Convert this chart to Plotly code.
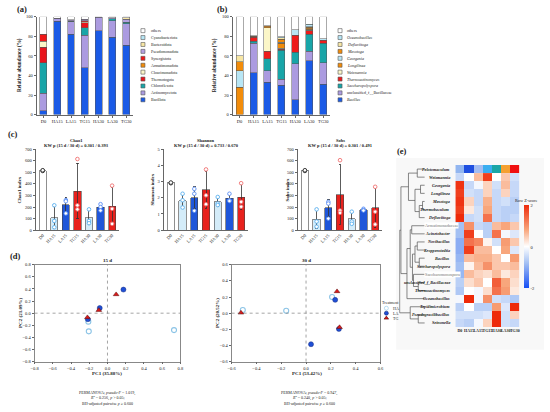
import plotly.graph_objects as go

W, H = 550, 412
SERIF = "Liberation Serif"
INK = "#222"

samples = ["D0", "HA15", "LA15", "TG15", "HA30", "LA30", "TG30"]

# (a) phylum level relative abundance (%), stacked bottom -> top
phyla = ["Bacillota", "Actinomycetota", "Chloroflexota", "Thermotogota", "Cloacimonadota",
         "Armatimonadota", "Synergistota", "Pseudomonadota", "Bacteroidota", "Cyanobacteriota", "others"]
bacillota = [4, 95.5, 82, 48, 86, 79, 71]
actinomycetota = [18, 2.5, 13, 33, 13.5, 17, 22]
chloroflexota = [31, 0, 0.5, 8, 0, 2, 1.5]
thermotogota = [16, 0, 0.5, 5, 0, 0, 0]
cloacimonadota = [6, 0, 0, 1, 0, 0, 0]
armatimonadota = [0, 0, 0, 0, 0, 0, 0]
synergistota = [7, 0, 0, 1, 0, 0, 0]
pseudomonadota = [0, 0.5, 1, 1.5, 0, 1, 3]
bacteroidota = [0, 0, 0, 0, 0, 0, 1.5]
cyanobacteriota = [0, 0, 0, 0, 0, 0, 0]
others_a = [18, 1.5, 3, 2.5, 0.5, 1, 1]
phyla_vals = [bacillota, actinomycetota, chloroflexota, thermotogota, cloacimonadota,
              armatimonadota, synergistota, pseudomonadota, bacteroidota, cyanobacteriota, others_a]
phyla_colors = ["#1a5ae6", "#ab9be0", "#18a5a8", "#e8141c", "#fbf6c8", "#f28c0a",
                "#f01818", "#b3a0e0", "#f7e6a4", "#b8e6f5", "#ffffff"]

# (b) genus level relative abundance (%), stacked bottom -> top
genera = ["<i>Bacillus</i>", "unclassified_f__Bacillaceae", "<i>Saccharopolyspora</i>",
          "<i>Thermoactinomyces</i>", "<i>Weizmannia</i>", "<i>Longilinea</i>", "<i>Georgenia</i>",
          "<i>Mesotoga</i>", "<i>Defluviitoga</i>", "<i>Oceanobacillus</i>", "others"]
bacillus = [0, 43, 33, 30, 15, 55, 31]
uncl_bacillaceae = [0, 30, 12, 6, 37, 10, 22]
saccharopolyspora = [0, 2, 12, 30, 12, 17, 20]
thermoactinomyces = [0, 4, 8, 1, 17, 4, 3]
weizmannia = [0, 0.5, 24, 1, 0, 0.5, 0]
longilinea = [28, 0.5, 1, 5, 0, 1, 0]
georgenia = [17, 0, 0, 1, 0, 0.5, 0]
mesotoga = [9, 0, 1, 3, 0, 1.5, 0]
defluviitoga = [6, 0, 0, 1.5, 0, 0.5, 0]
oceanobacillus = [0, 0.5, 0, 1, 6, 2.5, 1.5]
others_b = [40, 19.5, 9, 20.5, 13, 7.5, 22.5]
genera_vals = [bacillus, uncl_bacillaceae, saccharopolyspora, thermoactinomyces, weizmannia,
               longilinea, georgenia, mesotoga, defluviitoga, oceanobacillus, others_b]
genera_colors = ["#1a5ae6", "#ab9be0", "#18a5a8", "#ee1c1c", "#fbf6c8", "#f28c0a",
                 "#b8e6f5", "#f28c0a", "#f7e6a4", "#b8e6f5", "#ffffff"]

# (c) alpha diversity
chao1_mean = [515, 107, 218, 337, 107, 198, 208]
chao1_sd = [8, 95, 65, 240, 62, 28, 165]
chao1_pts = [[515, 512, 518], [215, 80, 25], [260, 250, 145], [615, 215, 180],
             [180, 80, 60], [225, 200, 170], [385, 185, 55]]
shannon_mean = [2.92, 1.83, 2.0, 2.5, 1.75, 1.97, 2.03]
shannon_sd = [0.04, 0.42, 0.68, 1.15, 0.27, 0.24, 0.78]
shannon_pts = [[2.92, 2.9, 2.94], [2.25, 1.85, 1.4], [2.55, 2.25, 1.2], [3.75, 2.15, 1.6],
               [2.05, 1.65, 1.55], [2.25, 1.85, 1.8], [2.9, 1.75, 1.45]]
sobs_mean = [515, 95, 192, 308, 97, 177, 195]
sobs_sd = [8, 80, 75, 258, 52, 12, 175]
sobs_pts = [[515, 512, 518], [180, 75, 30], [245, 230, 100], [605, 170, 150],
            [160, 75, 55], [185, 175, 170], [375, 160, 50]]
bar_colors = ["#ffffff", "#d4ecf9", "#1f56d9", "#e8211d", "#d4ecf9", "#1f56d9", "#e8211d"]
pt_colors = ["#333333", "#5ab0ee", "#5a8ef5", "#f07070", "#5ab0ee", "#5a8ef5", "#f07070"]

# (d) PCoA scores
ha15_pc1 = [-0.21, -0.205, 0.73]
ha15_pc2 = [-0.14, -0.30, -0.28]
la15_pc1 = [-0.215, -0.085, 0.175]
la15_pc2 = [-0.10, 0.085, 0.39]
tg15_pc1 = [-0.22, -0.095, 0.095]
tg15_pc2 = [-0.07, 0.05, 0.31]
ha30_pc1 = [-0.51, -0.16, 0.21]
ha30_pc2 = [0.04, 0.03, 0.20]
la30_pc1 = [0.235, 0.04, 0.265]
la30_pc2 = [0.165, -0.385, -0.195]
tg30_pc1 = [-0.525, 0.25, 0.27]
tg30_pc2 = [0.005, 0.27, -0.175]

# (e) heatmap of row z-scores
hm_genera = ["Pelotomaculum", "Weizmannia", "Georgenia", "Longilinea", "Mesotoga", "Thermobaculum",
             "Defluviitoga", "Armatimonadaceae", "Acinetobacter", "Novibacillus", "Kroppenstedtia",
             "Bacillus", "Saccharopolyspora", "Saccharomonospora", "unclassified_f_Bacillaceae",
             "Thermoactinomyces", "Oceanobacillus", "Tepidimicrobium", "Pseudogracilibacillus",
             "Seinonella"]
plain_labels = ["Armatimonadaceae", "Saccharomonospora"]
top_row_colors = ["#92b6f0", "#1f4fe0", "#a3bdf2", "#3aaef0", "#1aa6a6", "#f5a030", "#f01010"]
zscore = [
    [-0.5, 0.0, 0.6, 1.8, 0.0, 0.5, -0.4],
    [1.9, -0.5, -0.1, 0.4, -0.4, 0.6, -0.5],
    [1.8, -0.4, -0.5, 0.4, -0.5, 0.4, -0.5],
    [1.9, 0.4, -0.5, 0.7, -0.5, -0.4, -0.6],
    [1.8, 0.2, -0.4, 0.8, -0.5, -0.6, -0.6],
    [2.0, -0.5, -0.4, 1.3, -0.5, -0.6, -0.5],
    [-0.8, 1.0, -0.5, -0.6, 0.6, 0.8, 0.5],
    [-0.8, 1.8, 0.0, -0.6, 1.3, -0.1, -0.3],
    [-1.0, 1.3, 1.1, 0.1, -0.4, 0.9, 0.5],
    [-1.0, 1.8, 0.6, 0.6, 0.0, 0.8, -0.3],
    [-0.9, 0.6, 0.7, 0.7, 0.5, 0.0, 0.9],
    [-0.8, 0.1, 0.6, 1.0, 0.5, 0.5, 0.6],
    [-0.9, 0.6, 0.4, 0.3, 0.6, 0.2, 0.4],
    [-0.6, 0.3, 0.5, 0.0, 1.5, 0.8, 0.3],
    [-0.7, 0.0, -0.1, 0.3, 1.3, 0.9, 0.2],
    [-0.1, 2.0, -0.1, 1.0, -0.4, -0.5, -0.7],
    [-0.6, 0.0, -0.6, -0.6, 0.9, -0.3, 2.0],
    [-0.4, -0.4, -0.4, -0.3, 2.0, -0.4, 0.4],
    [-0.5, -0.6, -0.1, 0.4, 2.0, -0.4, -0.5],
]
# hierarchical clustering of rows: (left, right, height); ids >= 20 are earlier merges
merges = [(0, 1, 3.0), (2, 3, 1.7), (4, 5, 0.9), (22, 6, 2.2), (21, 23, 3.9), (20, 24, 6.5),
          (7, 8, 5.2), (9, 10, 3.0), (11, 12, 2.2), (27, 28, 3.9), (14, 15, 2.6), (13, 30, 4.5),
          (29, 31, 4.9), (26, 32, 5.8), (33, 16, 7.1), (25, 34, 9.5), (18, 19, 2.6),
          (17, 36, 5.8), (35, 37, 10.0)]

permanova_15 = ["PERMANOVA; <i>pseudo-F</i> = 1.019,", "<i>R</i><sup>2</sup> = 0.256, <i>p</i> &gt; 0.05;",
                "BH-adjusted pairwise <i>p</i> ≥ 0.600"]
permanova_30 = ["PERMANOVA; <i>pseudo-F</i> = 0.947,", "<i>R</i><sup>2</sup> = 0.240, <i>p</i> &gt; 0.05;",
                "BH-adjusted pairwise <i>p</i> ≥ 0.600"]


def xd(a, b):
    return [a / W, b / W]


def yd(top, bottom):
    return [1 - bottom / H, 1 - top / H]


def px(x):
    return x / W


def py(y):
    return 1 - y / H


tick_font = dict(family=SERIF, size=4.5, color=INK)
frame = dict(showline=True, linecolor="#666", linewidth=0.8, ticks="outside", ticklen=2,
             tickwidth=0.6, tickcolor="#666", showgrid=False, zeroline=False, tickfont=tick_font)

fig = go.Figure()

# (a) and (b) stacked bars
for names, vals, cols, ax in [(phyla, phyla_vals, phyla_colors, ""), (genera, genera_vals, genera_colors, "2")]:
    for name, v, c in zip(names, vals, cols):
        fig.add_bar(x=samples, y=[a if a else None for a in v], name=name, width=0.5,
                    marker=dict(color=c, line=dict(color="#555", width=0.5)),
                    xaxis="x" + ax, yaxis="y" + ax, showlegend=False)

# (c) alpha diversity bars + replicates
for ax, mean, sd, pts in [("3", chao1_mean, chao1_sd, chao1_pts), ("4", shannon_mean, shannon_sd, shannon_pts),
                          ("5", sobs_mean, sobs_sd, sobs_pts)]:
    fig.add_bar(x=samples, y=mean, width=0.62, xaxis="x" + ax, yaxis="y" + ax, showlegend=False,
                marker=dict(color=bar_colors, line=dict(color="#444", width=0.6)),
                error_y=dict(type="data", array=sd, color="#333", thickness=0.8, width=1.2))
    xs, ys, cs = [], [], []
    for s, p, c in zip(samples, pts, pt_colors):
        xs += [s] * len(p)
        ys += p
        cs += [c] * len(p)
    fig.add_scatter(x=xs, y=ys, mode="markers", xaxis="x" + ax, yaxis="y" + ax, showlegend=False,
                    marker=dict(symbol="circle", size=3.6, color="white", line=dict(color=cs, width=0.9)))

# (d) PCoA
groups = [("HA", "circle", "white", "#8cc4e6", 1.1), ("LA", "circle", "#1f4fd6", "#1a2f80", 0.5),
          ("TG", "triangle-up", "#d91a1a", "#5a0a0a", 0.5)]
for ax, sets in [("6", [(ha15_pc1, ha15_pc2), (la15_pc1, la15_pc2), (tg15_pc1, tg15_pc2)]),
                 ("7", [(ha30_pc1, ha30_pc2), (la30_pc1, la30_pc2), (tg30_pc1, tg30_pc2)])]:
    for (gx, gy), (g, sym, fc, lc, lw) in zip(sets, groups):
        fig.add_scatter(x=gx, y=gy, mode="markers", xaxis="x" + ax, yaxis="y" + ax, showlegend=False,
                        marker=dict(symbol=sym, size=5, color=fc, line=dict(color=lc, width=lw)))

# (e) heatmap
hm_scale = [[0, "#1750f5"], [0.3, "#a3c0f3"], [0.5, "#ffffff"], [0.7, "#f8a67c"], [1, "#ee2a0a"]]
fig.add_heatmap(z=zscore, x=samples, y=list(range(1, len(hm_genera))), zmin=-2, zmax=2,
                colorscale=hm_scale, xaxis="x8", yaxis="y8",
                colorbar=dict(x=px(528), xanchor="left", xpad=0, ypad=0, y=py(248), yanchor="middle",
                              len=84 / H, thickness=5, outlinewidth=0, tickvals=[-2, 0, 2],
                              ticktext=["-2", "0", "2"], ticks="",
                              tickfont=dict(family=SERIF, size=4.5, color=INK)))
n = len(top_row_colors)
fig.add_heatmap(z=[list(range(n))], x=samples, y=[0], zmin=0, zmax=n - 1, showscale=False,
                colorscale=[[i / (n - 1), c] for i, c in enumerate(top_row_colors)], xaxis="x8", yaxis="y8")

# dendrogram from the merge list
pos = {i: float(i) for i in range(len(hm_genera))}
hgt = {i: 0.0 for i in range(len(hm_genera))}
dx, dy = [], []
for k, (a, b, h) in enumerate(merges):
    node = len(hm_genera) + k
    dx += [hgt[a], h, h, hgt[b], None]
    dy += [pos[a], pos[a], pos[b], pos[b], None]
    pos[node] = (pos[a] + pos[b]) / 2
    hgt[node] = h
fig.add_scatter(x=dx, y=dy, mode="lines", line=dict(color="#555", width=0.7),
                xaxis="x9", yaxis="y9", showlegend=False)

# legend swatches (pixel overlay axis)
leg_x, leg_y, leg_c, leg_sym, leg_lc = [], [], [], [], []
for x0, cols in [(141, phyla_colors), (341, genera_colors)]:
    for i, c in enumerate(reversed(cols)):
        leg_x.append(x0)
        leg_y.append(29 + i * 7)
        leg_c.append(c)
        leg_sym.append("square")
        leg_lc.append("#555")
for i, (g, sym, fc, lc, lw) in enumerate(groups):
    leg_x.append(388)
    leg_y.append(310 + i * 5)
    leg_c.append(fc)
    leg_sym.append(sym)
    leg_lc.append(lc if g != "HA" else "#8cc4e6")
fig.add_scatter(x=leg_x, y=leg_y, mode="markers", xaxis="x10", yaxis="y10", showlegend=False,
                marker=dict(symbol=leg_sym, size=4, color=leg_c, line=dict(color=leg_lc, width=0.6)))

ann = []


def text(x, y, s, size=4.5, xanchor="center", angle=0, color=INK, **kw):
    ann.append(dict(x=px(x), y=py(y), xref="paper", yref="paper", text=s, showarrow=False,
                    xanchor=xanchor, yanchor="middle", textangle=angle,
                    font=dict(family=SERIF, size=size, color=color), **kw))


for x0, names in [(147, phyla), (346, genera)]:
    for i, name in enumerate(reversed(names)):
        text(x0, 29 + i * 7, name, size=4, xanchor="left")

for lab, x, y in [("(a)", 18, 7), ("(b)", 222, 7), ("(c)", 9, 134), ("(d)", 12, 257), ("(e)", 404, 151)]:
    text(x, y, "<b>%s</b>" % lab, size=8.5)

text(15, 64, "<b>Relative abundance (%)</b>", size=5.2, angle=-90)
text(213, 64, "<b>Relative abundance (%)</b>", size=5.2, angle=-90)

for cx, name, kw in [(74, "Chao1", "0.301 / 0.393"), (205, "Shannon", "0.733 / 0.670"), (341, "Sobs", "0.301 / 0.491")]:
    text(cx, 140, "<b>%s</b>" % name, size=4.5)
    text(cx, 145.5, "<b>KW p (15 d / 30 d) = %s</b>" % kw, size=4.5)
text(16, 190, "<b>Chao1 index</b>", size=5, angle=-90)
text(151, 190, "<b>Shannon index</b>", size=5, angle=-90)
text(288, 190, "<b>Sobs index</b>", size=5, angle=-90)

text(105, 262, "<b>15 d</b>", size=5)
text(307, 262, "<b>30 d</b>", size=5)
text(105, 376, "<b>PC1 (35.88%)</b>", size=5)
text(307, 376, "<b>PC1 (53.42%)</b>", size=5)
text(16, 315, "<b>PC2 (21.09%)</b>", size=5, angle=-90)
text(216, 315, "<b>PC2 (20.52%)</b>", size=5, angle=-90)
for cx, lines in [(105, permanova_15), (310, permanova_30)]:
    for i, line in enumerate(lines):
        text(cx, 396 + i * 5, line, size=4)
text(382, 304, "Treatment", size=4, xanchor="left")
for i, (g, *_rest) in enumerate(groups):
    text(393, 310 + i * 5, g, size=4, xanchor="left")
text(530, 201, "Row Z-score", size=4.3)

for i, g in enumerate(hm_genera):
    if g in plain_labels:
        ann.append(dict(x=px(426), y=i, xref="paper", yref="y8", text=g, showarrow=False, xanchor="left",
                        yanchor="middle", bgcolor="white", borderpad=0,
                        font=dict(family=SERIF, size=4.3, color="#777")))
    else:
        ann.append(dict(x=px(455), y=i, xref="paper", yref="y8", text="<b><i>%s</i></b>" % g, showarrow=False,
                        xanchor="right", yanchor="middle", font=dict(family=SERIF, size=4.2, color=INK)))

shapes = [dict(type="rect", xref="paper", yref="paper", x0=px(398), x1=px(548), y0=py(352), y1=py(158),
               fillcolor="#f8f8f8", line=dict(width=0), layer="below")]
for ax in ["6", "7"]:
    shapes.append(dict(type="line", xref="x" + ax, yref="y%s domain" % ax, x0=0, x1=0, y0=0, y1=1,
                       line=dict(color="#666", width=0.6, dash="dot")))
    shapes.append(dict(type="line", xref="x%s domain" % ax, yref="y" + ax, x0=0, x1=1, y0=0, y1=0,
                       line=dict(color="#666", width=0.6, dash="dot")))

box = dict(frame, mirror=True, linecolor="#888")
cat_c = dict(frame, tickangle=-45, ticks="")
cat_ab = dict(frame, tickangle=0)

fig.update_layout(
    width=W, height=H, autosize=False, margin=dict(l=0, r=0, t=0, b=0),
    paper_bgcolor="white", plot_bgcolor="rgba(0,0,0,0)", barmode="stack",
    font=dict(family=SERIF, color=INK),
    xaxis=dict(cat_ab, domain=xd(33, 131), anchor="y"),
    yaxis=dict(frame, domain=yd(15, 114), anchor="x", range=[0, 100], dtick=20),
    xaxis2=dict(cat_ab, domain=xd(232, 331), anchor="y2"),
    yaxis2=dict(frame, domain=yd(15, 114), anchor="x2", range=[0, 100], dtick=20),
    xaxis3=dict(cat_c, domain=xd(32, 117), anchor="y3"),
    yaxis3=dict(frame, domain=yd(149, 231), anchor="x3", range=[0, 700], dtick=100),
    xaxis4=dict(cat_c, domain=xd(162, 248), anchor="y4"),
    yaxis4=dict(frame, domain=yd(149, 231), anchor="x4", range=[0, 5], dtick=1),
    xaxis5=dict(cat_c, domain=xd(298, 384), anchor="y5"),
    yaxis5=dict(frame, domain=yd(149, 231), anchor="x5", range=[0, 700], dtick=100),
    xaxis6=dict(box, domain=xd(31, 179), anchor="y6", range=[-0.8, 0.8], dtick=0.2, tickformat=".1f"),
    yaxis6=dict(box, domain=yd(266, 364), anchor="x6", range=[-0.8, 0.8], dtick=0.2, tickformat=".1f"),
    xaxis7=dict(box, domain=xd(231, 382), anchor="y7", range=[-0.6, 0.6], dtick=0.2, tickformat=".1f"),
    yaxis7=dict(box, domain=yd(266, 364), anchor="x7", range=[-0.6, 0.6], dtick=0.2, tickformat=".1f"),
    xaxis8=dict(domain=xd(458, 523), anchor="y8", showline=False, ticks="", showgrid=False, tickangle=0,
                tickfont=dict(family=SERIF, size=4.0, color=INK), tickprefix="<b>", ticksuffix="</b>"),
    yaxis8=dict(domain=yd(165, 329), anchor="x8", range=[len(hm_genera) - 0.5, -0.5], visible=False),
    xaxis9=dict(domain=xd(401, 427), anchor="y9", range=[10.2, 0], visible=False),
    yaxis9=dict(domain=yd(165, 329), anchor="x9", range=[len(hm_genera) - 0.5, -0.5], visible=False),
    xaxis10=dict(domain=[0, 1], anchor="y10", range=[0, W], visible=False),
    yaxis10=dict(domain=[0, 1], anchor="x10", range=[H, 0], visible=False),
    annotations=ann, shapes=shapes,
)

# the page's default body margin would shift the figure by 8px
fig.write_html("out.html", config={"displayModeBar": False},
               post_script="document.body.style.margin='0';")
